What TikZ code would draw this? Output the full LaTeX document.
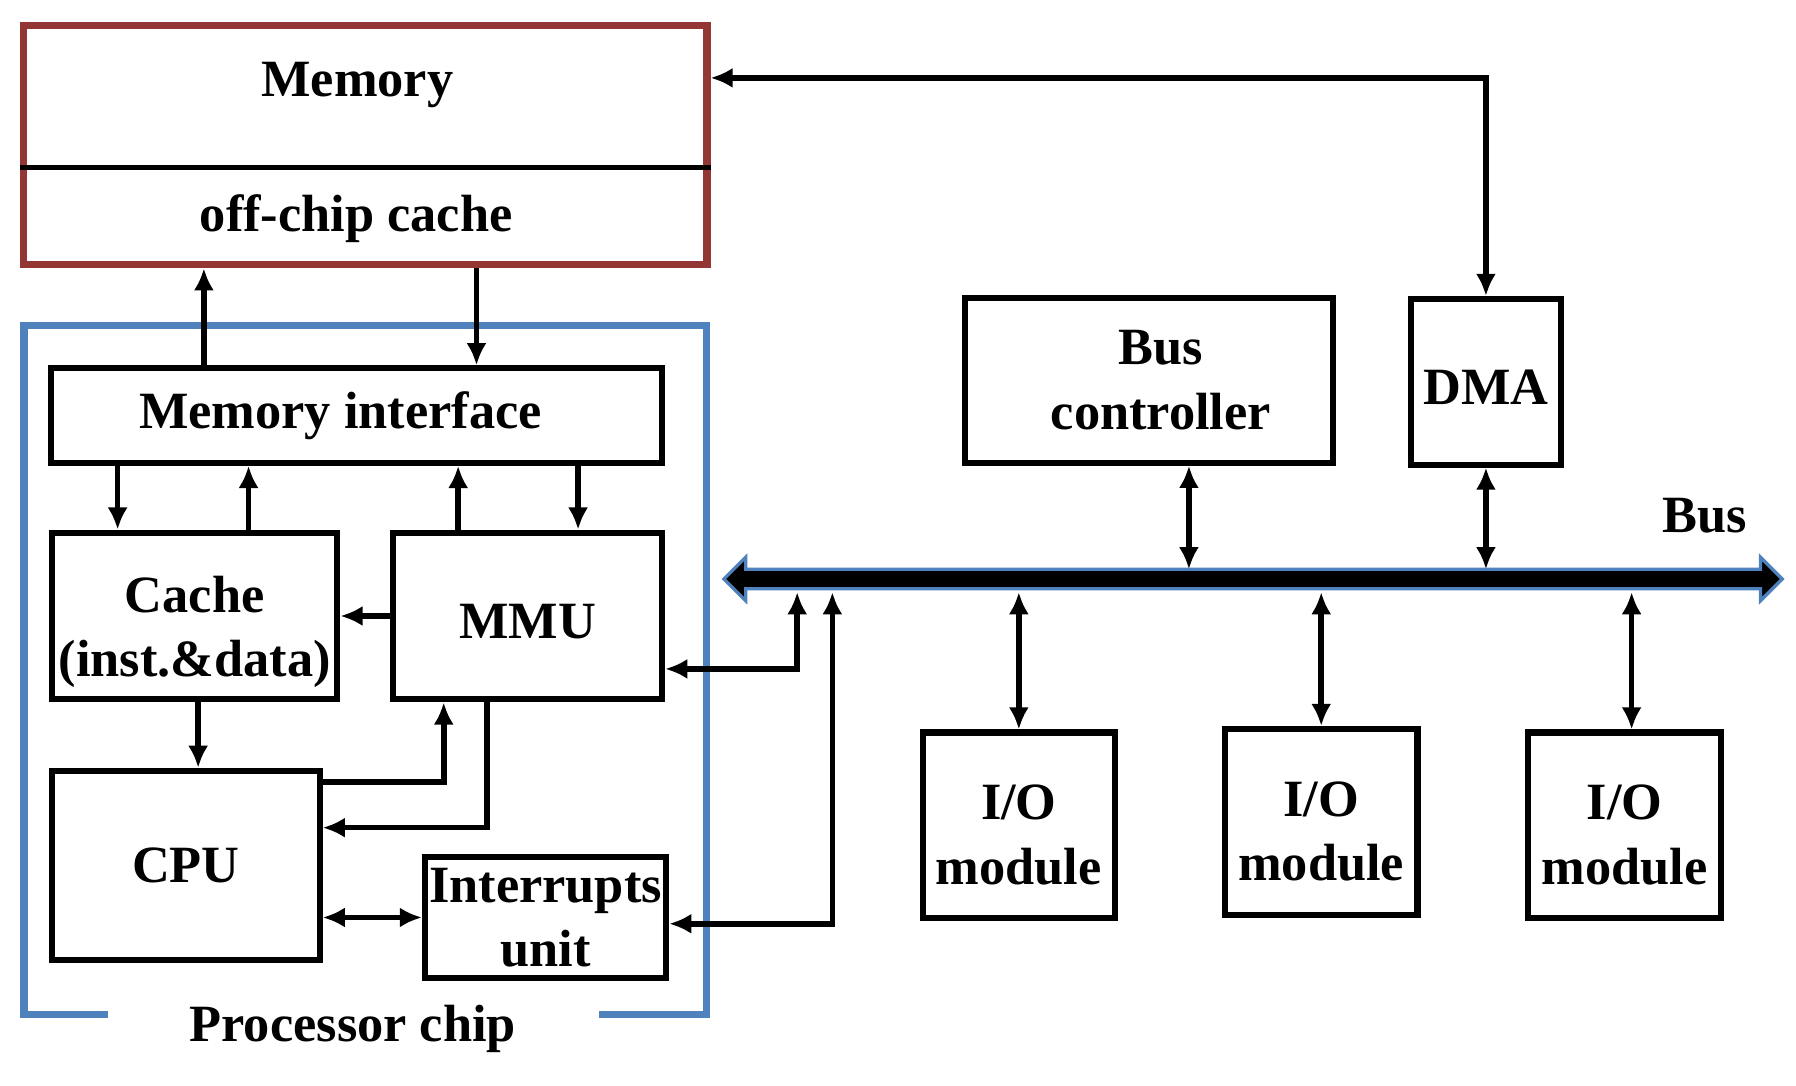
\documentclass[tikz,border=0pt]{standalone}
\usepackage{fontspec}
\setmainfont{Liberation Serif}
\usetikzlibrary{arrows.meta}

\definecolor{memred}{HTML}{943634}
\definecolor{chipblue}{HTML}{4F81BD}

\tikzset{
	block/.style={draw, line width=1.5pt, inner sep=0pt, align=center},
	frame/.style={line width=1.8pt},
	link/.style={line width=1.4pt, >={Latex[length=5.5pt,width=5pt]}},
}

\begin{document}
\begin{tikzpicture}[x=0.01cm, y=-0.01cm, font=\fontsize{13}{16}\selectfont\bfseries]
		\useasboundingbox (0,0) rectangle (1568,948);
		% memory and off-chip cache
		\node [block, draw=memred, frame, minimum width=5.96cm, minimum height=2.09cm] (0) at (319,126.5) {};
		\node [anchor=base] (1) at (312,84.6) {Memory};
		\node [anchor=base] (2) at (311,202) {off-chip cache};
		\coordinate (3) at (0,146);
		\draw [line width=1.3pt] (0.west |- 3) to (0.east |- 3);
		% processor chip
		\node [anchor=base] (4) at (308,909) {Processor chip};
		\draw [frame, chipblue] (94,886) -| (21,284) -| (617,886) -- (523,886);
		\node [block, minimum width=5.325cm, minimum height=0.825cm] (5) at (311.3,362.8) {Memory interface\hspace*{8pt}};
		\node [block, minimum width=2.49cm, minimum height=1.455cm] (6) at (170,537.8) {\rule{0pt}{17pt}Cache\\(inst.\&data)};
		\node [block, minimum width=2.345cm, minimum height=1.455cm] (7) at (460.8,537.8) {\rule{0pt}{11.5pt}MMU};
		\node [block, minimum width=2.335cm, minimum height=1.65cm] (8) at (162.3,755.5) {CPU};
		\node [block, minimum width=2.105cm, minimum height=1.06cm] (9) at (476.3,801) {Interrupts\\unit};
		% devices on the bus
		\node [block, minimum width=3.21cm, minimum height=1.44cm] (10) at (1003,332) {\hspace*{6pt}Bus\\\hspace*{6pt}controller};
		\node [block, minimum width=1.315cm, minimum height=1.445cm] (11) at (1297.3,333.3) {\rule{0pt}{11.5pt}DMA};
		\node [block, minimum width=1.68cm, minimum height=1.615cm] (12) at (889.5,720.3) {\rule{0pt}{13.5pt}I/O\\module};
		\node [block, minimum width=1.68cm, minimum height=1.62cm] (13) at (1153.5,717.5) {\rule{0pt}{13.5pt}I/O\\module};
		\node [block, minimum width=1.68cm, minimum height=1.615cm] (14) at (1418.3,720.3) {\rule{0pt}{13.5pt}I/O\\module};
		% bus
		\coordinate (15) at (632,505.5);
		\draw [chipblue, fill=black, line width=0.8pt] (15) -- ++(19,-19) -- ++(0,10.5) -- ++(886,0) -- ++(0,-10.5) -- ++(19,19)
			-- ++(-19,19) -- ++(0,-10.5) -- ++(-886,0) -- ++(0,10.5) -- cycle;
		\node [anchor=base] (16) at (1488,465) {Bus};
		\coordinate (17) at (0,497);
		\coordinate (18) at (0,517);
		% x and y of the links
		\coordinate (20) at (178,0);
		\coordinate (21) at (416,0);
		\coordinate (22) at (102.7,0);
		\coordinate (23) at (217,0);
		\coordinate (24) at (400,0);
		\coordinate (25) at (504.7,0);
		\coordinate (26) at (173,0);
		\coordinate (27) at (0,682.6);
		\coordinate (28) at (387.4,0);
		\coordinate (29) at (425,0);
		\coordinate (30) at (0,722.6);
		\coordinate (31) at (0,584);
		\coordinate (32) at (696,0);
		\coordinate (33) at (0,806.5);
		\coordinate (34) at (726.7,0);
		\coordinate (35) at (0,68);
		\coordinate (36) at (1038,0);
		\coordinate (37) at (1424.5,0);
		% links inside the chip
		\draw [link, ->] (5.north -| 20) to (0.south -| 20);
		\draw [link, ->] (0.south -| 21) to (5.north -| 21);
		\draw [link, ->] (5.south -| 22) to (6.north -| 22);
		\draw [link, ->] (6.north -| 23) to (5.south -| 23);
		\draw [link, ->] (7.north -| 24) to (5.south -| 24);
		\draw [link, ->] (5.south -| 25) to (7.north -| 25);
		\draw [link, ->] (7.west) to (6.east);
		\draw [link, ->] (6.south -| 26) to (8.north -| 26);
		\draw [link, ->] (8.east |- 27) -| (7.south -| 28);
		\draw [link, ->] (7.south -| 29) |- (8.east |- 30);
		\draw [link, <->] (8.east |- 9.west) to (9.west);
		% links to the bus
		\draw [link, <->] (7.east |- 31) -| (32 |- 18);
		\draw [link, <->] (9.east |- 33) -| (34 |- 18);
		\draw [link, <->] (0.east |- 35) -| (11.north);
		\draw [link, <->] (10.south -| 36) to (36 |- 17);
		\draw [link, <->] (11.south) to (11.south |- 17);
		\draw [link, <->] (12.north |- 18) to (12.north);
		\draw [link, <->] (13.north |- 18) to (13.north);
		\draw [link, <->] (37 |- 18) to (14.north -| 37);
\end{tikzpicture}
\end{document}
